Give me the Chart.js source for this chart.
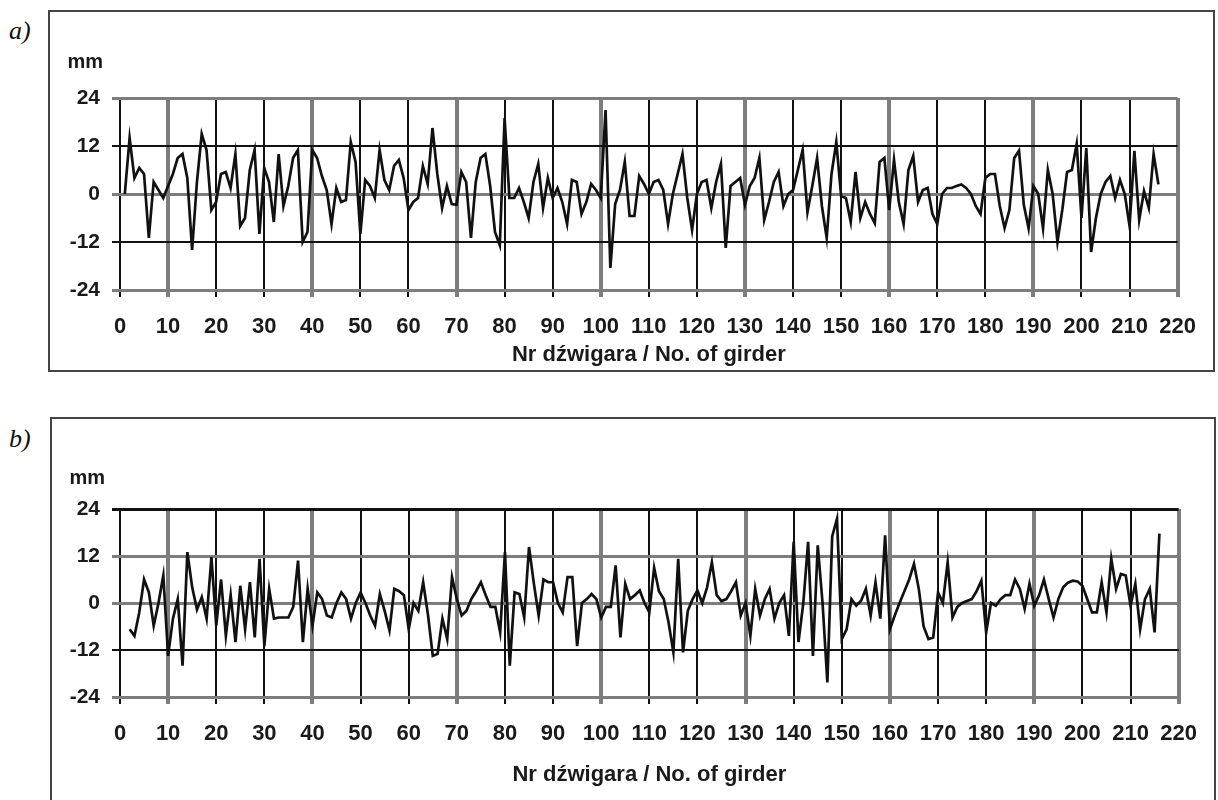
<!DOCTYPE html>
<html>
<head>
<meta charset="utf-8">
<script src="https://cdn.jsdelivr.net/npm/chart.js@4.4.1/dist/chart.umd.min.js"></script>
<style>
  body { margin: 0; background: #fff; width: 1218px; height: 800px; overflow: hidden; position: relative; }
  .box { position: absolute; border: 2px solid #444; box-sizing: border-box; }
  .tag { position: absolute; font-family: "Liberation Serif", "DejaVu Serif", serif; font-style: italic; font-size: 26px; color: #111; }
  canvas { position: absolute; }
</style>
</head>
<body>
<div class="tag" style="left:9px; top:16px;">a)</div>
<div class="box" style="left:48px; top:10px; width:1167px; height:362px;"></div>
<canvas id="chartA" width="1163" height="358" style="left:50px; top:12px;"></canvas>

<div class="tag" style="left:9px; top:424px;">b)</div>
<div class="box" style="left:50px; top:417px; width:1166px; height:400px;"></div>
<canvas id="chartB" width="1162" height="379" style="left:52px; top:419px;"></canvas>

<script>
// ticks
const xTickValues = [0, 10, 20, 30, 40, 50, 60, 70, 80, 90, 100, 110, 120, 130, 140, 150, 160, 170, 180, 190, 200, 210, 220];
const yTickValues = [-24, -12, 0, 12, 24];

const unitText = 'mm';
const xTitle = 'Nr dźwigara / No. of girder';

// a) ugiecia, dzwigary 1..216
const firstGirderA = 1;
const seriesA = [
  0, 14, 4, 6.5, 5, -11, 3, 1, -1, 2,
  5, 9, 10, 4, -14, 3, 15, 11, -4, -2,
  5, 5.5, 1.5, 10, -8, -6, 6, 11, -10, 6.5,
  3, -7, 10, -3, 2, 9, 11, -12, -9.5, 11,
  9, 4.5, 1, -7.5, 1.5, -2, -1.5, 13, 8, -10,
  3.5, 2, -1, 11, 3.5, 1, 7, 8.5, 4, -4,
  -2, -1, 7, 2.5, 16.5, 5, -3.5, 2, -2.5, -2.7,
  5.5, 3, -11, 3, 9, 10, 2, -9.5, -12.8, 19,
  -1, -1, 1.5, -2, -6, 3, 7.5, -3.5, 4, -1,
  1.5, -2, -7.5, 3.5, 3, -5, -2, 2.5, 1, -1,
  21, -18.5, -2.5, 1, 8, -5.5, -5.5, 4.5, 2.5, 0,
  3, 3.5, 1, -7.5, 0, 5, 10, -1, -9, 0,
  3, 3.5, -3.5, 3, 7.5, -13.5, 2, 3, 4, -2.7,
  2, 4, 9, -6.5, -2, 3, 5.5, -3, 0, 1,
  6, 11, -4.5, 2, 9, -3, -11, 5, 13, -0.5,
  -1, -7, 5.5, -6, -2, -5, -7.3, 8, 9, -4,
  8.5, -2, -7.5, 6, 9.5, -2, 1, 1.5, -5, -7.5,
  0, 1.5, 1.5, 2, 2.4, 1.5, 0, -3, -5, 4,
  5, 5, -3, -8.5, -4, 9, 10.8, -2.7, -8.6, 2,
  0, -8.6, 6, 0, -12, -4, 5.5, 6, 12.5, -6,
  11.5, -14.5, -6, 0, 3, 4.5, -1, 3.5, 0, -8,
  10.8, -6.5, 0.7, -3.5, 10, 2.4
];

// b) dzwigary 2..216
const firstGirderB = 2;
const seriesB = [
  -6.7, -8.4, -2.4, 6, 2.7, -5.8, 0, 7, -13.5, -4,
  1, -16, 13, 4, -1.7, 1.5, -4, 11.7, -5.8, 6,
  -8.4, 2, -10, 4.4, -6.7, 5.3, -8.8, 11.3, -11, 3.6,
  -4, -3.7, -3.7, -3.7, -1, 10.8, -10, 3.6, -5.8, 2.7,
  1, -3.2, -3.7, 0, 2.7, 1, -4, 0, 2.7, 0,
  -3.2, -5.8, 2.3, -2, -7, 3.6, 3, 2, -6.7, 0,
  -2, 5.3, -3, -13.5, -13, -4, -9.2, 6.6, 1, -3.2,
  -2, 1, 3, 5.3, 2, -1, -1, -7.5, 13, -16,
  2.7, 2.3, -3.7, 14.3, 5, -3.2, 6, 5.3, 5.3, 0,
  -2.4, 6.6, 6.6, -11, 0, 1, 2.3, 1, -3.7, -1,
  -1, 9.6, -8.8, 4.9, 1, 2, 3.2, 0, -2.4, 9,
  3, 1, -5, -12.6, 11.3, -12.6, -2, 1, 3.2, 0,
  4, 10.4, 2, 0.5, 1, 3, 5.3, -3.2, 0, -8.4,
  3.6, -3.2, 1, 3.6, -4, 0, 2, -8.4, 15.6, -10,
  0, 15.6, -13.5, 14.7, 0, -20.3, 17, 21.5, -9.2, -6.7,
  1, -0.7, 0.6, 3.6, -3.2, 5.3, -4, 17.3, -6.7, -3.2,
  0, 3, 6, 10, 3.6, -6, -9.2, -8.8, 2.7, 0,
  10.4, -3.7, -1, 0, 0.5, 1, 3, 5.7, -7.5, 0,
  -0.7, 1, 2, 2, 6, 3.6, -1.5, 4.9, -0.7, 2,
  6, 1, -3.7, 1, 4, 5.2, 5.7, 5.5, 4.4, 1,
  -2.4, -2.4, 5.3, -2.4, 11.3, 3.6, 7.4, 7, -0.7, 4.9,
  -6.7, 1, 3.6, -7.5, 17.7
];

const FONT = '"Liberation Sans", Arial, sans-serif';
const GREY = '#7d7d7d';
const DARK = '#111';

// napis "mm" nad osia Y
const unitLabel = {
  id: 'unitLabel',
  afterDraw(chart, args, opts) {
    const ctx = chart.ctx;
    const area = chart.chartArea;
    ctx.save();
    ctx.font = 'bold 20px ' + FONT;
    ctx.fillStyle = '#1a1a1a';
    ctx.textAlign = 'right';
    ctx.textBaseline = 'middle';
    ctx.fillText(opts.text, area.left - opts.dx, area.top - opts.dy);
    ctx.restore();
  }
};

function makeChart(id, firstGirder, values, cfg) {
  const points = values.map((v, i) => ({ x: firstGirder + i, y: v }));
  const ctx = document.getElementById(id).getContext('2d');
  return new Chart(ctx, {
    type: 'line',
    data: {
      datasets: [{
        data: points,
        borderColor: DARK,
        borderWidth: 2.7,
        pointRadius: 0,
        tension: 0,
        fill: false
      }]
    },
    options: {
      responsive: false,
      animation: false,
      events: [],
      layout: { padding: { left: 0, right: cfg.padRight, top: cfg.padTop, bottom: cfg.padBottom } },
      plugins: {
        legend: { display: false },
        tooltip: { enabled: false },
        unitLabel: { text: unitText, dx: cfg.unitDx, dy: cfg.unitDy }
      },
      scales: {
        x: {
          type: 'linear',
          min: 0,
          max: 220,
          afterBuildTicks: s => { s.ticks = xTickValues.map(v => ({ value: v })); },
          afterFit: s => { s.height = cfg.xHeight; },
          border: { display: false },
          grid: {
            color: c => {
              const v = c.tick ? c.tick.value : 0;
              return (v % 30 === 10 || v === 220) ? GREY : DARK;
            },
            lineWidth: c => {
              const v = c.tick ? c.tick.value : 0;
              if (v % 30 === 10) return 4;
              return v === 220 ? 3 : 2;
            },
            tickLength: 7
          },
          ticks: {
            color: '#1a1a1a',
            padding: 17,
            maxRotation: 0,
            autoSkip: false,
            font: { family: FONT, size: 22, weight: 'bold' }
          },
          title: {
            display: true,
            text: xTitle,
            color: '#1a1a1a',
            padding: { top: 0, bottom: 2 },
            font: { family: FONT, size: 22, weight: 'bold' }
          }
        },
        y: {
          min: -24,
          max: 24,
          afterBuildTicks: s => { s.ticks = yTickValues.map(v => ({ value: v })); },
          afterFit: s => { s.width = cfg.yWidth; },
          border: { display: false },
          grid: {
            color: c => {
              const v = c.tick ? c.tick.value : 0;
              return cfg.greyRows.includes(v) ? GREY : DARK;
            },
            lineWidth: c => {
              const v = c.tick ? c.tick.value : 0;
              return cfg.thickRows.includes(v) ? 3 : 2;
            },
            tickLength: 8
          },
          ticks: {
            color: '#1a1a1a',
            padding: 12,
            font: { family: FONT, size: 21, weight: 'bold' }
          }
        }
      }
    },
    plugins: [unitLabel]
  });
}

var chartA = makeChart('chartA', firstGirderA, seriesA, {
  padRight: 22, padTop: 86, padBottom: 0,
  xHeight: 80, yWidth: 70,
  unitDx: 17, unitDy: 36,
  greyRows: [24, 0, -24], thickRows: [24, 0, -24]
});

var chartB = makeChart('chartB', firstGirderB, seriesB, {
  padRight: 27, padTop: 90, padBottom: 8,
  xHeight: 93, yWidth: 68,
  unitDx: 15, unitDy: 31,
  greyRows: [12, 0, -24], thickRows: [24, 12, 0, -24]
});
</script>
</body>
</html>
